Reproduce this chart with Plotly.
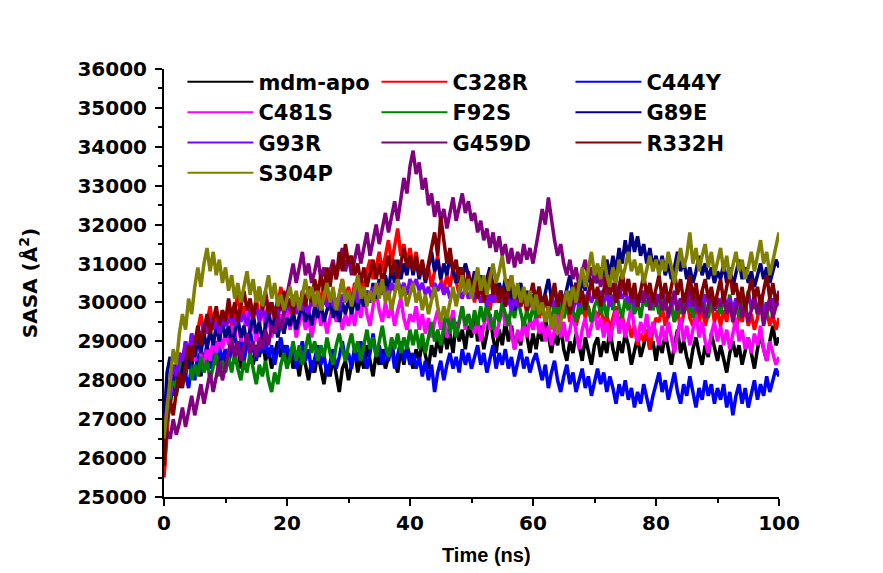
import plotly.graph_objects as go

# Time axis (ns), sampled every 0.5 ns
time_ns = [i * 0.5 for i in range(201)]

series_names = ["mdm-apo", "C328R", "C444Y", "C481S", "F92S", "G89E",
                "G93R", "G459D", "R332H", "S304P"]
series_colors = ["#000000", "#FF0000", "#0000FF", "#FF00FF", "#008000",
                 "#000080", "#8000FF", "#800080", "#800000", "#808000"]

mdm_apo = [
    25600, 26900, 27400, 27900, 27600, 28200, 28500, 28100, 28700, 28300, 28900, 28400, 28100, 28700, 28300, 28800, 28500, 29000, 28600, 28300, 28800,
    28400, 29000, 28600, 28900, 28300, 28800, 29200, 28700, 28400, 28900, 28600, 29100, 28500, 28800, 28300, 28700, 29000, 28600, 28900, 28400,
    28800, 28300, 28600, 28100, 28700, 28400, 28000, 28500, 28200, 28700, 28300, 27900, 28400, 28100, 28600, 28200, 27700, 28300, 28500, 28000,
    28400, 28800, 28200, 28600, 28300, 28900, 28500, 28100, 28700, 28400, 28800, 28300, 28600, 29000, 28500, 28200, 28800, 28400, 28900, 28600,
    28300, 28800, 28500, 29000, 28600, 28300, 28900, 28600, 29100, 28700, 29300, 28800, 29200, 28700, 29500, 29000, 29300, 28800, 29400, 29100,
    29600, 29000, 29400, 28800, 29200, 29700, 29100, 28700, 29300, 28900, 29500, 29000, 29400, 28800, 29200, 28900, 29600, 29100, 28700, 29200,
    28800, 29300, 29000, 29600, 29100, 28700, 29200, 28900, 29400, 28800, 28500, 29000, 28700, 29200, 28900, 28500, 29100, 28700, 28400, 28900,
    29100, 28600, 29000, 28700, 29300, 28800, 28500, 29000, 28700, 29200, 28900, 28400, 28800, 29100, 28600, 28900, 29300, 28800, 29000, 28500,
    29000, 28700, 29200, 28800, 28400, 28900, 29300, 28700, 29000, 28600, 28300, 28800, 29100, 28700, 28400, 28900, 28600, 29200, 28800, 28500,
    28900, 28500, 28200, 28700, 29000, 28600, 28900, 28400, 28800, 29100, 28700, 28300, 28800, 29200, 28800, 28500, 29000, 29400, 28900, 29100,
]

c328r = [
    25500, 26800, 27800, 28300, 28000, 28700, 28400, 29000, 28600, 29200, 28800, 29300, 29700, 29100, 29500, 29900, 29300, 29700, 29400, 29800, 29500,
    29900, 29400, 29800, 30200, 29600, 29900, 29500, 30000, 29700, 30100, 29600, 29900, 30300, 29800, 30000, 29500, 29900, 30400, 29800, 30100,
    29700, 30200, 29800, 30100, 29600, 30000, 30400, 29900, 30200, 29700, 30100, 30500, 30000, 29800, 30300, 29900, 30200, 30600, 30100, 30400,
    30000, 30500, 30200, 30700, 30300, 30800, 31100, 30600, 30900, 31300, 30800, 31200, 31600, 31000, 31400, 31900, 31200, 31500, 31000, 31400,
    30900, 31300, 30700, 31000, 30600, 30900, 30400, 30800, 31200, 30600, 30300, 30700, 30400, 30900, 30500, 30200, 30600, 30300, 30800, 30400,
    30000, 30500, 30200, 30600, 30100, 29800, 30300, 30000, 30400, 29900, 30200, 30600, 30100, 29800, 30300, 29900, 30200, 29700, 30100, 29800,
    30000, 29600, 29900, 29500, 29800, 30200, 29700, 29400, 29900, 29600, 30000, 29500, 29800, 29400, 29700, 30100, 29600, 29900, 29500, 29800,
    29600, 29900, 29400, 29700, 29300, 29600, 29900, 29400, 29700, 29200, 29500, 29100, 29400, 28900, 29200, 29000, 29300, 28800, 29300, 29600,
    29500, 29900, 29400, 29700, 30000, 29500, 29800, 29300, 29700, 30100, 29600, 29400, 29800, 29500, 29900, 29400, 29700, 30000, 29500, 29800,
    29400, 29800, 29500, 30000, 29600, 29300, 29700, 29500, 29900, 29400, 29700, 29300, 29600, 30000, 29500, 29800, 29400, 29700, 29300, 29600,
]

c444y = [
    26400, 27500, 28000, 27600, 28300, 27900, 28500, 28100, 27800, 28400, 28000, 28700, 28200, 28600, 28900, 28300, 28700, 28400, 28900, 28500, 28800,
    28400, 28900, 29200, 28700, 29000, 28500, 28900, 29300, 28800, 28500, 29000, 28700, 29100, 28600, 28900, 28400, 28800, 29100, 28600, 28900,
    28500, 28900, 28300, 28700, 29000, 28500, 28800, 28200, 28600, 28900, 28400, 28700, 28100, 28500, 28800, 28300, 28600, 29000, 28500, 28700,
    28300, 28800, 28500, 29000, 28600, 28300, 28700, 29200, 28600, 28900, 28400, 28800, 28500, 28900, 28300, 28700, 29000, 28500, 28800, 28400,
    28700, 28300, 28600, 28100, 28500, 28000, 28400, 27700, 28200, 28500, 28000, 28400, 28700, 28300, 28600, 28200, 28800, 28400, 28700, 28300,
    28600, 28900, 28400, 28700, 28200, 28600, 28900, 28300, 28700, 28400, 28800, 28300, 28600, 28100, 28500, 28800, 28300, 28600, 28200, 28500,
    28700, 28300, 28000, 28400, 27800, 28200, 28500, 28000, 27700, 28100, 28400, 27900, 28200, 27700, 28000, 28300, 27800, 28100, 27600, 28000,
    28300, 27900, 28200, 27700, 28100, 27800, 27400, 27900, 27600, 28000, 27500, 27800, 27300, 27700, 27400, 27900, 27500, 27200, 27600, 27900,
    28200, 27700, 28000, 27500, 27900, 28200, 27700, 27400, 27900, 27600, 28100, 27700, 27300, 27800, 27500, 28000, 27600, 27900, 27400, 27800,
    27500, 27900, 27300, 27700, 27100, 27600, 27900, 27400, 27800, 27300, 27700, 28000, 27500, 27900, 27600, 28100, 27700, 28000, 28300, 28100,
]

c481s = [
    26200, 27000, 27600, 28100, 27800, 28400, 28100, 28600, 28300, 28800, 28500, 29000, 28600, 28300, 28900, 28500, 29100, 28700, 29200, 28800, 29300,
    28900, 29400, 29100, 29600, 29000, 29300, 29800, 29200, 29500, 29000, 29400, 29900, 29300, 29600, 29100, 29500, 29200, 29700, 29400, 29800,
    29300, 29700, 29100, 29500, 29800, 29300, 29600, 29100, 29500, 29900, 29400, 29700, 29200, 29600, 30000, 29500, 29800, 29300, 29700, 29400,
    29800, 29400, 30000, 29600, 30200, 29700, 29400, 29900, 30300, 29800, 29500, 30000, 29600, 29900, 29400, 29800, 30100, 29600, 29300, 29700,
    29500, 29900, 29300, 29700, 29200, 29600, 29100, 29500, 29800, 29300, 29600, 29100, 29400, 29800, 29200, 29500, 29900, 29300, 29700, 29400,
    29200, 29600, 29000, 29400, 29800, 29300, 29600, 29100, 29500, 29900, 29400, 29700, 29200, 28800, 29300, 29000, 29500, 29100, 29600, 29300,
    29700, 29200, 29500, 29000, 29400, 28900, 29300, 29700, 29100, 29500, 29000, 29300, 29700, 29200, 28800, 29300, 29600, 29100, 29400, 29800,
    29300, 29600, 29100, 29500, 29000, 29400, 29800, 29200, 29600, 29100, 29500, 29900, 29300, 29000, 29500, 29200, 29700, 29100, 29500, 29200,
    28900, 29400, 29000, 29500, 29100, 28700, 29200, 29600, 29000, 29400, 28900, 29300, 29700, 29100, 29500, 29000, 28700, 29200, 29500, 29000,
    29400, 28900, 29300, 28800, 29200, 29600, 29000, 29300, 28800, 29100, 28700, 29200, 28900, 29400, 28800, 28500, 29000, 28700, 28400, 28600,
]

f92s = [
    25800, 27200, 27700, 28200, 27800, 28300, 28700, 28200, 28600, 28000, 28400, 28100, 28600, 28200, 28500, 28000, 28400, 28700, 28100, 28500, 28200,
    28600, 28200, 28700, 28300, 28000, 28500, 28200, 28700, 28300, 27900, 28400, 28100, 28500, 28000, 27700, 28200, 27900, 28400, 28700, 28300,
    28600, 29000, 28500, 28900, 28400, 28800, 29200, 28700, 29000, 28500, 28900, 28600, 29100, 28700, 28400, 28900, 29200, 28800, 28500, 28900,
    29200, 28700, 29000, 28500, 28900, 29300, 28800, 29100, 28600, 29000, 29400, 28900, 28600, 29100, 28800, 29200, 28700, 29100, 28800, 29300,
    28900, 29300, 28800, 29200, 28700, 29100, 29500, 29000, 29300, 28900, 29400, 29800, 29200, 29600, 29100, 29500, 29900, 29400, 29700, 29300,
    29800, 29400, 29900, 29500, 30000, 29600, 29300, 29800, 29500, 30000, 29700, 29400, 29900, 29600, 30100, 29700, 29400, 29800, 29500, 29900,
    29600, 30000, 29700, 30200, 29800, 29500, 30000, 29700, 30100, 29600, 29900, 30300, 29800, 29500, 30000, 29700, 30200, 29800, 29500, 29900,
    30100, 29700, 30000, 29600, 30200, 29800, 30300, 29900, 29600, 30100, 29800, 30200, 29700, 30000, 29600, 30100, 29900, 30300, 29800, 30100,
    29700, 30100, 29800, 30200, 29900, 29500, 30000, 29700, 30200, 29800, 30100, 29600, 30000, 29800, 30300, 29900, 29600, 30100, 29800, 30000,
    29700, 30100, 29800, 30200, 29700, 30000, 29600, 30100, 29900, 30300, 29800, 30000, 29700, 30200, 29900, 29600, 30100, 29800, 30200, 30100,
]

g89e = [
    26800, 28200, 28600, 28000, 28400, 27800, 28300, 28700, 28300, 28900, 28600, 29100, 28700, 29200, 28800, 29300, 28900, 29400, 29000, 29500, 29100,
    29400, 28900, 29300, 29600, 29100, 29400, 28900, 29300, 29700, 29200, 29500, 29000, 29400, 29800, 29300, 29600, 29100, 29500, 29200, 29600,
    29400, 29800, 29300, 29700, 30000, 29500, 29800, 29400, 29900, 29600, 30000, 29500, 29800, 30100, 29600, 29900, 29500, 30000, 29700, 30100,
    29700, 30100, 29800, 30200, 29900, 30300, 30000, 30500, 30100, 30600, 30200, 30700, 30300, 30900, 30500, 31100, 30600, 31000, 30700, 31200,
    30700, 31100, 30600, 31000, 30500, 30900, 31300, 30800, 31100, 30600, 31000, 30700, 31200, 30800, 30500, 30900, 30600, 31000, 30700, 30400,
    30800, 30300, 30700, 30200, 30600, 30900, 30400, 30100, 30500, 30200, 30600, 30000, 30400, 29800, 30200, 30500, 30000, 30300, 29900, 30200,
    30000, 30400, 29900, 30300, 30600, 30100, 30400, 29900, 30300, 30000, 30400, 30700, 30200, 30500, 30100, 30600, 30300, 30800, 30400, 30700,
    30500, 30900, 30600, 31100, 30700, 31200, 30800, 31400, 31000, 31600, 31100, 31800, 31300, 31700, 31200, 31500, 31000, 31400, 30900, 31200,
    30800, 31200, 30700, 31000, 30600, 30900, 31300, 30800, 31100, 30600, 30900, 30500, 30800, 31200, 30700, 31000, 30600, 30900, 30500, 30800,
    30600, 31000, 30500, 30900, 30400, 30800, 31100, 30600, 30900, 30500, 30800, 30400, 30700, 31000, 30600, 30900, 30500, 30800, 31100, 30900,
]

g93r = [
    26300, 27400, 27900, 28400, 28100, 28700, 28500, 29000, 28700, 29200, 28900, 29300, 29100, 29500, 29200, 29600, 29300, 29500, 29200, 29600, 29400,
    29500, 29700, 29400, 29800, 29500, 29700, 29400, 29800, 29600, 29900, 29500, 29800, 29600, 30000, 29700, 29900, 29600, 30000, 29700, 29900,
    29800, 30000, 29700, 30100, 29800, 30000, 29700, 30100, 29900, 30200, 29800, 30100, 29900, 30200, 29900, 30100, 29800, 30200, 30000, 30200,
    30100, 30300, 30000, 30400, 30100, 30300, 30000, 30400, 30200, 30500, 30200, 30400, 30100, 30500, 30300, 30600, 30300, 30500, 30200, 30600,
    30400, 30600, 30300, 30500, 30200, 30400, 30100, 30500, 30300, 30500, 30200, 30400, 30100, 30300, 30000, 30300, 30100, 30400, 30100, 30300,
    30100, 30300, 30000, 30200, 29900, 30200, 30000, 30300, 30000, 30200, 29900, 30100, 29800, 30100, 29900, 30200, 30000, 30200, 29900, 30100,
    30000, 30200, 29900, 30100, 29800, 30100, 29900, 30200, 30000, 30200, 29900, 30100, 29800, 30100, 29900, 30200, 30000, 30300, 30000, 30200,
    30100, 30300, 30000, 30200, 29900, 30200, 30000, 30300, 30100, 30300, 30000, 30200, 29900, 30200, 30000, 30300, 30100, 30300, 30000, 30200,
    30100, 30300, 30000, 30200, 29900, 30100, 29800, 30100, 30000, 30200, 29900, 30100, 29800, 30100, 29900, 30200, 30000, 30200, 29900, 30100,
    30000, 30200, 29900, 30100, 29800, 30100, 29900, 30200, 30000, 30200, 29900, 30100, 29800, 30000, 29700, 30000, 29800, 30100, 29900, 30000,
]

g459d = [
    26300, 26700, 26500, 27000, 26600, 26900, 27300, 26800, 27200, 27600, 27100, 27500, 27900, 27400, 27800, 28200, 27700, 28100, 28500, 28000, 28400,
    28700, 29100, 28600, 29000, 28500, 28900, 29200, 28700, 29000, 28600, 29100, 28800, 29300, 28900, 29400, 29200, 29700, 29300, 29800, 30200,
    30600, 31000, 30500, 30900, 31300, 30700, 31000, 30500, 30800, 31200, 30600, 30900, 30400, 30800, 31100, 30600, 31000, 31400, 30800, 31200,
    30700, 31100, 31500, 31000, 31400, 31800, 31200, 31600, 32000, 31500, 31900, 32300, 31800, 32200, 32600, 32100, 32700, 33200, 32800, 33500,
    33900, 33300, 33600, 32900, 33200, 32500, 32800, 32200, 32600, 32100, 32400, 31900, 32300, 32700, 32100, 32500, 32800, 32300, 32600, 32100,
    32300, 31800, 32100, 31600, 31900, 31400, 31800, 31300, 31700, 31200, 31500, 31000, 31400, 30900, 31300, 31000, 31500, 31100, 31400, 31000,
    31400, 31900, 32400, 32000, 32700, 32100, 31600, 31200, 31500, 31000, 30700, 31100, 30600, 30900, 30400, 30800, 31100, 30600, 30900, 30500,
    30800, 30400, 30700, 30200, 30600, 30900, 30400, 30100, 30500, 30200, 30600, 30000, 30300, 29900, 30300, 30000, 30400, 29800, 30200, 29900,
    30200, 29800, 30100, 29600, 30000, 30300, 29800, 30100, 29700, 30000, 30400, 29900, 30200, 29700, 30000, 29600, 29900, 30300, 29800, 30100,
    29900, 30200, 29700, 30000, 29500, 29900, 30200, 29600, 30000, 29500, 29800, 30200, 29700, 30000, 29400, 29800, 30100, 29600, 29900, 30300,
]

r332h = [
    25800, 27000, 27500, 27100, 27700, 28200, 27800, 28400, 28900, 28500, 29000, 29400, 28900, 29300, 29700, 29200, 29600, 29900, 29400, 29800, 29500,
    30100, 29600, 30000, 29500, 29900, 30300, 29800, 30100, 29600, 30000, 30400, 29800, 30200, 29700, 30000, 29600, 30100, 29800, 30300, 29900,
    30100, 29700, 30200, 29800, 30300, 29900, 30400, 30000, 30600, 30200, 30700, 30300, 30900, 30400, 31000, 30600, 31300, 30800, 31500, 31000,
    31200, 30700, 31000, 30500, 30900, 30400, 30800, 31100, 30600, 31000, 30500, 30900, 31200, 30700, 31100, 30600, 31000, 31400, 30900, 31200,
    30800, 31200, 30700, 31100, 30600, 31000, 31400, 31800, 31200, 32200, 31600, 31000, 31400, 30800, 31100, 30500, 30900, 30300, 30700, 30200,
    30600, 30100, 30500, 30000, 30400, 30800, 30200, 30500, 30000, 30400, 29900, 30300, 30700, 30100, 30400, 29900, 30300, 29800, 30200, 30500,
    30000, 30400, 29800, 30200, 29700, 30100, 30500, 29900, 30300, 29800, 30200, 29700, 30100, 30500, 30000, 30300, 29800, 30200, 30600, 30100,
    30400, 29900, 30300, 30700, 30200, 30500, 30000, 30400, 30800, 30200, 30600, 30100, 30500, 29900, 30300, 30700, 30200, 30500, 30000, 30400,
    30700, 30100, 30500, 30000, 30400, 30800, 30200, 30600, 30000, 30300, 30700, 30100, 30500, 29900, 30300, 30600, 30100, 30400, 29900, 30300,
    30600, 30000, 30400, 30800, 30200, 30500, 30000, 30400, 29800, 30200, 30600, 30100, 30400, 29900, 30300, 30700, 30100, 30500, 30000, 30200,
]

s304p = [
    26500, 27300, 28200, 28800, 28400, 29200, 29700, 29300, 30100, 29700, 30400, 30900, 30400, 31000, 31400, 30800, 31300, 30700, 31100, 30500, 30900,
    30300, 30700, 30100, 30500, 30000, 30400, 30800, 30200, 30600, 30000, 30400, 29900, 30300, 30700, 30100, 30500, 29900, 30200, 29800, 30100,
    30400, 29900, 30300, 29800, 30200, 30600, 30100, 30400, 29900, 30300, 29800, 30200, 30500, 30000, 30400, 29800, 30200, 30600, 30000, 30300,
    29900, 30300, 30700, 30100, 30400, 29900, 30300, 30000, 30500, 30100, 30600, 30000, 30300, 29800, 30200, 30600, 30100, 30400, 29900, 30200,
    30500, 30000, 30300, 29800, 30200, 29700, 30100, 30400, 29900, 29500, 29900, 29600, 30000, 30400, 29900, 30300, 30700, 30200, 30600, 30100,
    30500, 30900, 30300, 30700, 30200, 30600, 31000, 30500, 30800, 31200, 30600, 30300, 30700, 30100, 30500, 30000, 30400, 29900, 30300, 29800,
    30200, 29700, 30000, 29500, 29900, 29300, 29700, 29200, 29500, 29900, 30300, 29900, 30400, 30000, 30500, 30900, 30400, 30800, 31300, 30700,
    31000, 30600, 31200, 30700, 30400, 30900, 30500, 31100, 30600, 30900, 31300, 30800, 31100, 30700, 31000, 30500, 30900, 31200, 30800, 31100,
    30700, 31100, 30800, 31300, 30900, 30500, 31000, 31400, 30900, 31200, 31800, 31000, 31400, 30800, 31200, 31500, 30900, 31300, 30700, 31100,
    31400, 30800, 31200, 30600, 31000, 31300, 30800, 31100, 30600, 30900, 31300, 30800, 31200, 31600, 31000, 31300, 30700, 31100, 31500, 31800,
]

all_series = [mdm_apo, c328r, c444y, c481s, f92s, g89e, g93r, g459d, r332h, s304p]
for nm, s in zip(series_names, all_series):
    assert len(s) == len(time_ns), (nm, len(s))

fig = go.Figure()
for nm, col, s in zip(series_names, series_colors, all_series):
    fig.add_trace(go.Scatter(x=time_ns, y=s, mode="lines", name=nm,
                             legendgroup=nm, showlegend=False,
                             line=dict(color=col, width=3.5)))
# legend entries drawn with a thinner line sample, as in the original
for nm, col in zip(series_names, series_colors):
    fig.add_trace(go.Scatter(x=[None], y=[None], mode="lines", name=nm,
                             legendgroup=nm, showlegend=True,
                             line=dict(color=col, width=2)))

bold = dict(family="DejaVu Sans", color="black", weight="bold")
arial_bold = dict(family="Liberation Sans", color="black", weight="bold")

fig.update_layout(
    width=883, height=573,
    margin=dict(l=156, r=112, t=61, b=84),
    paper_bgcolor="white", plot_bgcolor="white",
    showlegend=True,
    legend=dict(
        orientation="h", x=0.03, y=1.017, xanchor="left", yanchor="top",
        bgcolor="rgba(0,0,0,0)", itemwidth=66,
        entrywidth=113, entrywidthmode="pixels",
        font=dict(size=21, **bold), tracegroupgap=0,
    ),
    xaxis=dict(
        range=[0, 100], dtick=20, tick0=0, automargin=False,
        showline=True, linecolor="black", linewidth=2, mirror=False,
        ticks="outside", ticklen=7, tickwidth=2, tickcolor="black",
        minor=dict(dtick=10, ticks="outside", ticklen=4, tickwidth=2, tickcolor="black"),
        showgrid=False, zeroline=False,
        tickfont=dict(size=20, **bold),
    ),
    yaxis=dict(
        range=[25000, 36000], dtick=1000, tick0=25000, tickformat="d",
        automargin=False, ticklabelstandoff=4,
        showline=True, linecolor="black", linewidth=2, mirror=False,
        ticks="outside", ticklen=7, tickwidth=2, tickcolor="black",
        minor=dict(dtick=500, ticks="outside", ticklen=4, tickwidth=2, tickcolor="black"),
        showgrid=False, zeroline=False,
        tickfont=dict(size=20, **bold),
        title=dict(text="SASA (Å<sup>2</sup>)", font=dict(size=20, **bold), standoff=34),
    ),
    annotations=[dict(
        text="Time (ns)", xref="paper", yref="paper", x=0.5236, y=-0.135,
        xanchor="center", yanchor="middle", showarrow=False,
        font=dict(size=20, **arial_bold),
    )],
)

fig.write_html("out.html")
